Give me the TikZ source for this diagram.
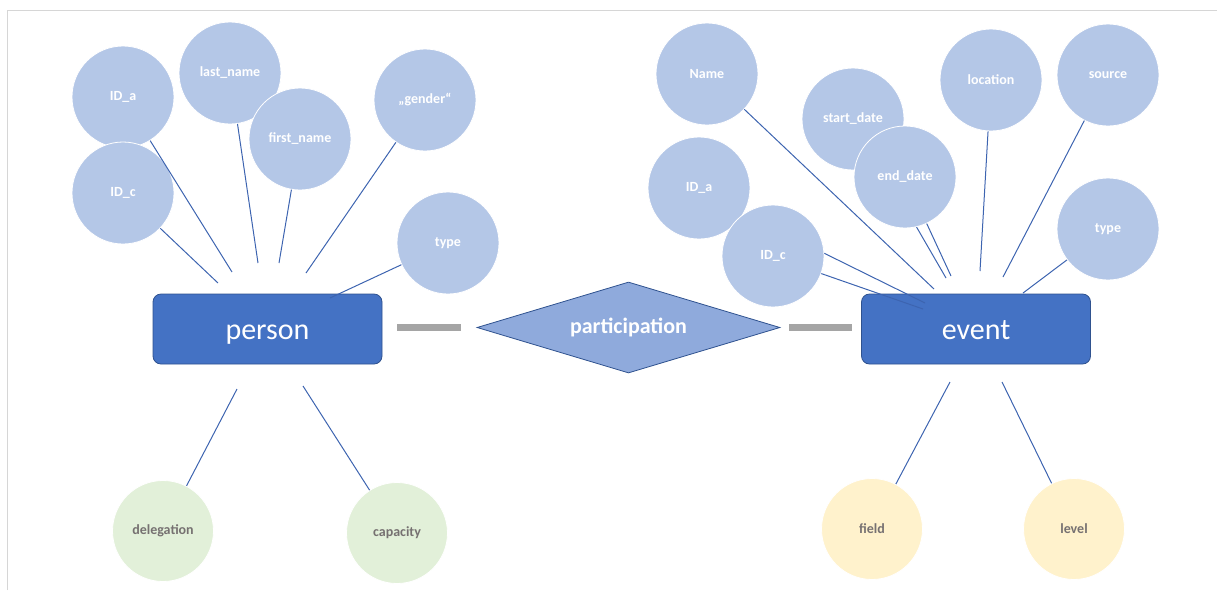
\documentclass[tikz,border=0pt]{standalone}
\usepackage{fontspec}
\setmainfont{Carlito}
\usepackage{tikz}
\usetikzlibrary{shapes.geometric}
\definecolor{boxblue}{HTML}{4472C4}
\definecolor{boxline}{HTML}{2F528F}
\definecolor{linkblue}{HTML}{3D64B0}
\definecolor{attrblue}{HTML}{B4C7E7}
\definecolor{relblue}{HTML}{8FAADC}
\definecolor{softgreen}{HTML}{E2F0D9}
\definecolor{softyellow}{HTML}{FFF2CC}
\definecolor{bargray}{HTML}{A5A5A5}
\definecolor{framegray}{HTML}{D6D6D6}
\definecolor{labelgray}{HTML}{767171}

\begin{document}
\begin{tikzpicture}[x=1pt,y=-1pt,
  entity/.style={draw=boxline,line width=0.8pt,fill=boxblue,rounded corners=8pt,minimum width=229pt,minimum height=70pt,text=white,text height=20pt,text depth=0pt,font=\fontsize{30}{34}\selectfont},
  attr/.style={circle,draw=white,line width=0.8pt,fill=attrblue,minimum size=102pt,inner sep=0pt,text=white,font=\bfseries\fontsize{14}{16}\selectfont},
  greenattr/.style={attr,fill=softgreen,text=labelgray,minimum size=101pt},
  yellowattr/.style={attr,fill=softyellow,text=labelgray,minimum size=101pt},
  rel/.style={diamond,draw=boxline,line width=0.8pt,fill=relblue,aspect=3.33,minimum width=303pt,minimum height=91pt,inner sep=0pt,text=white,font=\bfseries\fontsize{22}{26}\selectfont},
  link/.style={draw=linkblue,line width=1pt},
  bar/.style={draw=bargray,line width=6.5pt}]
\useasboundingbox (0,0) rectangle (1217,590);
\draw[framegray,line width=1.5pt] (7.5,590) -- (7.5,10.5) -- (1217,10.5);

\node[attr] (ida) at (123,97) {ID\_a};
\node[attr] (idc) at (123,193) {ID\_c};
\node[attr] (lastname) at (230,73) {last\_name};
\node[attr] (firstname) at (300,139) {first\_name};
\node[attr] (gender) at (425,100) {„gender“};
\node[attr] (ptype) at (448,243) {type};
\node[greenattr] (deleg) at (163,531) {delegation};
\node[greenattr] (capac) at (397,533) {capacity};
\node[entity] (person) at (267.5,329) {person};

\node[rel] (part) at (628.5,327.5) {participation};

\node[attr] (ename) at (707,74) {Name};
\node[attr] (startdate) at (853,119) {start\_date};
\node[attr] (enddate) at (905,177) {end\_date};
\node[attr] (location) at (991,80) {location};
\node[attr] (source) at (1108,75) {source};
\node[attr] (eida) at (699,188) {ID\_a};
\node[attr] (eidc) at (773,256) {ID\_c};
\node[attr] (etype) at (1108,229) {type};
\node[yellowattr] (field) at (872,529) {field};
\node[yellowattr] (level) at (1074,529) {level};
\node[entity] (event) at (976,329) {event};

\coordinate (pa1) at (218,283);
\coordinate (pa2) at (232,272);
\coordinate (pa3) at (258,263);
\coordinate (pa4) at (279,263);
\coordinate (pa5) at (306,273);
\coordinate (pa6) at (330,298);
\coordinate (pb1) at (237,389);
\coordinate (pb2) at (303,386);
\coordinate (ea1) at (934,289);
\coordinate (ea2) at (946,278);
\coordinate (ea3) at (951,276);
\coordinate (ea4) at (980,271);
\coordinate (ea5) at (1003,277);
\coordinate (ea6) at (1023,293);
\coordinate (ea7) at (925,303);
\coordinate (ea8) at (923,309);
\coordinate (eb1) at (950,382);
\coordinate (eb2) at (1002,382);

\draw[bar] (person.east |- part.west) -- (part.west) [shorten <=15pt,shorten >=16pt];
\draw[bar] (part.east) -- (event.west |- part.east) [shorten <=9pt,shorten >=9pt];

\draw[link] (idc) -- (pa1);
\draw[link] (ida) -- (pa2);
\draw[link] (lastname) -- (pa3);
\draw[link] (firstname) -- (pa4);
\draw[link] (gender) -- (pa5);
\draw[link] (ptype) -- (pa6);
\draw[link] (deleg) -- (pb1);
\draw[link] (capac) -- (pb2);
\draw[link] (ename) -- (ea1);
\draw[link] (enddate.-77) -- (ea2);
\draw[link] (enddate.-65) -- (ea3);
\draw[link] (location) -- (ea4);
\draw[link] (source) -- (ea5);
\draw[link] (etype) -- (ea6);
\draw[link] (eidc.3) -- (ea7);
\draw[link] (eidc.-20) -- (ea8);
\draw[link] (field) -- (eb1);
\draw[link] (level) -- (eb2);
\end{tikzpicture}
\end{document}
